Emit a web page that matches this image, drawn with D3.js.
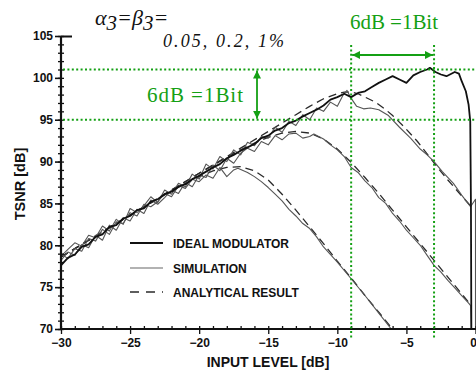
<!DOCTYPE html>
<html>
<head>
<meta charset="utf-8">
<script src="https://cdn.jsdelivr.net/npm/d3@7"></script>
<style>
  html, body { margin: 0; padding: 0; background: #fff; }
  svg { display: block; }
  .tick text { font-family: "Liberation Sans", Arial, sans-serif; font-weight: bold; font-size: 12px; fill: #111; }
</style>
</head>
<body>
<svg id="chart" width="476" height="371"></svg>
<script>
// Axis ticks
const xTicks = [-30, -25, -20, -15, -10, -5, 0];
const yTicks = [70, 75, 80, 85, 90, 95, 100, 105];

// Ideal modulator TSNR vs input level [dB]
const ideal = [[-30,77.6],[-29.5,78.5],[-29,78.9],[-28.5,79.8],[-28,80.1],[-27.5,81.0],[-27,81.3],[-26.5,82.2],[-26,82.4],[-25.5,83.2],[-25,83.5],[-24.5,84.2],[-24,84.4],[-23.5,85.2],[-23,85.5],[-22.5,86.1],[-22,86.4],[-21.5,87.0],[-21,87.3],[-20.5,87.9],[-20,88.3],[-19.5,88.8],[-19,89.3],[-18.5,89.7],[-18,90.4],[-17.5,90.8],[-17,91.3],[-16.5,91.7],[-16,92.1],[-15.5,92.8],[-15,93.1],[-14.5,93.7],[-14,94.0],[-13.5,94.6],[-13,94.9],[-12.5,95.4],[-12,95.8],[-11.5,96.2],[-11,96.7],[-10.5,97.4],[-10,97.7],[-9.5,98.1],[-9,97.7],[-8.5,98.2],[-8,98.4],[-7.5,98.9],[-7,99.4],[-6.5,99.8],[-6,100.2],[-5.5,99.8],[-5,99.4],[-4.5,100.3],[-4,100.7],[-3.5,101.0],[-3.3,101.2],[-2.9,100.7],[-2.5,100.4],[-2.1,100.2],[-1.5,100.7],[-1.2,100.5],[-1,99.6],[-0.7,98.4],[-0.5,96.8],[-0.38,94.8],[-0.33,85],[-0.3,70]];

// Simulated TSNR for alpha3 = beta3 = 0.05 %, 0.2 %, 1 %
const sim005 = [[-30,78.7],[-29.5,79.5],[-29,80.3],[-28.5,79.9],[-28,81.2],[-27.5,80.9],[-27,82.3],[-26.5,81.7],[-26,83.1],[-25.5,82.5],[-25,84.4],[-24.5,83.9],[-24,84.7],[-23.5,85.8],[-23,85.1],[-22.5,86.6],[-22,86.1],[-21.5,87.4],[-21,87.0],[-20.5,88.5],[-20,87.9],[-19.5,89.7],[-19,89.1],[-18.5,90.6],[-18,90.0],[-17.5,91.4],[-17,90.8],[-16.5,92.3],[-16,91.9],[-15.5,93.0],[-15,92.8],[-14.5,94.1],[-14,93.5],[-13.5,94.8],[-13,94.3],[-12.5,95.6],[-12,95.0],[-11.5,96.4],[-11,96.0],[-10.5,97.1],[-10,96.6],[-9.6,97.9],[-9.3,98.5],[-9.06,97.7],[-8.6,96.6],[-8.1,96.3],[-7.6,96.4],[-7,96.2],[-6.3,95.5],[-5.5,94.1],[-4.7,92.8],[-4,91.5],[-3.5,90.8],[-3,90.0],[-2.4,88.8],[-1.6,87.4],[-1,86.0],[-0.36,84.6],[0,85.5],[0,70]];
const sim02 = [[-30,78.2],[-29.5,79.2],[-29,78.8],[-28.5,80.1],[-28,79.7],[-27.5,81.2],[-27,80.6],[-26.5,82.4],[-26,81.8],[-25.5,83.3],[-25,82.9],[-24.5,84.3],[-24,83.8],[-23.5,85.4],[-23,84.9],[-22.5,85.7],[-22,86.6],[-21.5,86.2],[-21,87.5],[-20.5,87.0],[-20,88.4],[-19.5,88.1],[-19,89.6],[-18.5,88.9],[-18,90.4],[-17.5,89.8],[-17,91.0],[-16.5,91.6],[-16,91.2],[-15.5,92.4],[-15,92.0],[-14.5,93.1],[-14,92.6],[-13.5,93.3],[-13,93.4],[-12.5,92.8],[-12,93.0],[-11.7,93.3],[-11,92.7],[-10.5,92.0],[-10,91.4],[-9.5,90.6],[-9,89.3],[-8.5,88.7],[-8,87.7],[-7.5,86.9],[-7,85.7],[-6.5,85.0],[-6,83.8],[-5.5,82.9],[-5,81.8],[-4.5,80.9],[-4,80.0],[-3.5,78.8],[-3,77.6],[-2.5,76.8],[-2,75.8],[-1.5,74.9],[-1,74.0],[-0.5,73.1],[-0.35,72.8],[-0.3,70]];
const sim1 = [[-30,79.0],[-29.5,78.4],[-29,79.6],[-28.5,79.3],[-28,80.8],[-27.5,80.5],[-27,81.9],[-26.5,81.3],[-26,82.8],[-25.5,82.6],[-25,83.9],[-24.5,83.5],[-24,84.9],[-23.5,84.6],[-23,85.2],[-22.5,86.2],[-22,85.8],[-21.5,87.1],[-21,86.8],[-20.5,87.9],[-20,87.6],[-19.5,88.4],[-19,88.0],[-18.5,89.3],[-18,88.2],[-17.5,89.0],[-17.2,89.2],[-16.5,88.7],[-16,88.2],[-15.5,87.6],[-15,86.9],[-14.5,86.1],[-14,85.3],[-13.5,84.3],[-13,83.5],[-12.5,82.6],[-12,82.0],[-11.5,81.0],[-11,79.8],[-10,78.0],[-9,76.0],[-8,74.0],[-7,71.9],[-6.1,70]];

// Analytical TSNR for the same three coefficients
const ana005 = [[-30,78.6],[-25,83.6],[-20,88.6],[-17,91.6],[-15,93.6],[-13,95.6],[-12,96.6],[-11,97.5],[-10,98.1],[-9.5,98.3],[-9,98.3],[-8.5,98.1],[-8,97.7],[-7.25,97.1],[-6.5,96.2],[-6,95.5],[-5.2,94.2],[-4.2,92.4],[-3.4,90.7],[-2.7,89.2],[-2,87.8],[-1,85.9],[-0.3,84.6]];
const ana02 = [[-30,78.6],[-25,83.6],[-20,88.6],[-18,90.5],[-17,91.4],[-16,92.2],[-15,92.9],[-14,93.4],[-13,93.6],[-12,93.4],[-11,92.7],[-10,91.5],[-9,89.9],[-8,88.1],[-7,86.2],[-6,84.2],[-5,82.2],[-4,80.2],[-3,78.2],[-2,76.2],[-1,74.2],[-0.3,72.8]];
const ana1 = [[-30,78.6],[-25,83.6],[-22,86.5],[-20,88.2],[-19,88.9],[-18,89.3],[-17,89.4],[-16,88.9],[-15,87.8],[-14,86.1],[-13,84.2],[-12,82.2],[-11,80.2],[-10,78.1],[-9,76.1],[-8,74.0],[-7,72.0],[-6,70.0]];

// Reference markers: 6 dB span between levels and inputs
const levelLines = [101, 95];
const inputLines = [-9, -3];

const legendItems = ["IDEAL MODULATOR", "SIMULATION", "ANALYTICAL RESULT"];

const GREEN = "#14a014";
const svg = d3.select("#chart");
const x = d3.scaleLinear().domain([-30, 0]).range([61, 475.5]);
const y = d3.scaleLinear().domain([70, 105]).range([329, 36]);

svg.append("defs").append("clipPath").attr("id", "plot")
  .append("rect").attr("x", 61).attr("y", 30).attr("width", 416).attr("height", 300);

svg.select("defs").append("marker")
  .attr("id", "ah").attr("viewBox", "0 0 10 10").attr("refX", 10).attr("refY", 5)
  .attr("markerWidth", 4.5).attr("markerHeight", 4.5).attr("orient", "auto-start-reverse")
  .attr("markerUnits", "strokeWidth")
  .append("path").attr("d", "M0,0 L10,5 L0,10 Z").attr("fill", GREEN);

const line = d3.line().x(d => x(d[0])).y(d => y(d[1]));
const curves = svg.append("g").attr("clip-path", "url(#plot)");

// analytical (dashed)
[ana005, ana02, ana1].forEach(s => curves.append("path").attr("d", line(s))
  .attr("fill", "none").attr("stroke", "#2a2a2a").attr("stroke-width", 1.3)
  .attr("stroke-dasharray", "8,5"));
// simulation (thin gray)
[sim005, sim02, sim1].forEach(s => curves.append("path").attr("d", line(s))
  .attr("fill", "none").attr("stroke", "#555").attr("stroke-width", 1.1)
  .attr("stroke-linejoin", "round"));
// ideal modulator (thick black)
curves.append("path").attr("d", line(ideal))
  .attr("fill", "none").attr("stroke", "#111").attr("stroke-width", 1.8)
  .attr("stroke-linejoin", "round");

// Axes
const yMinor = d3.range(70, 105.01, 1);
const xMinor = d3.range(-30, 0.01, 1);
function styleAxis(g) {
  g.select(".domain").remove();
  g.selectAll(".tick line").attr("stroke", "#111").attr("stroke-width", 1.3);
}
svg.append("g").attr("transform", "translate(61,0)")
  .call(d3.axisLeft(y).tickValues(yMinor).tickSize(3).tickFormat(""))
  .call(styleAxis);
svg.append("g").attr("transform", "translate(61,0)")
  .call(d3.axisRight(y).tickValues(yMinor).tickSize(3).tickFormat(""))
  .call(styleAxis);
svg.append("g").attr("transform", "translate(61,0)")
  .call(d3.axisLeft(y).tickValues(yTicks).tickSize(6).tickPadding(2).tickFormat(d3.format("d")))
  .call(styleAxis)
  .call(g => g.selectAll(".tick line").attr("stroke-width", 1.6));
svg.append("g").attr("transform", "translate(61,0)")
  .call(d3.axisRight(y).tickValues([105]).tickSize(11).tickFormat(""))
  .call(styleAxis)
  .call(g => g.selectAll(".tick line").attr("stroke-width", 2));

svg.append("g").attr("transform", "translate(0,329)")
  .call(d3.axisTop(x).tickValues(xMinor).tickSize(3).tickFormat(""))
  .call(styleAxis);
svg.append("g").attr("transform", "translate(0,329)")
  .call(d3.axisBottom(x).tickValues(xTicks).tickSize(5).tickPadding(4).tickFormat(d3.format("d")))
  .call(styleAxis)
  // the last label sits at the right edge, so it is right-aligned to stay inside
  .call(g => g.selectAll(".tick text").filter(d => d === 0)
    .attr("text-anchor", "end").attr("dx", 1));

// axis lines
svg.append("line").attr("x1", 61).attr("x2", 61).attr("y1", y(105)).attr("y2", y(70) + 1)
  .attr("stroke", "#111").attr("stroke-width", 2.2);
svg.append("line").attr("x1", 60).attr("x2", 476).attr("y1", y(70)).attr("y2", y(70))
  .attr("stroke", "#111").attr("stroke-width", 2.2);

// axis titles
svg.append("text").attr("transform", `translate(25,${184}) rotate(-90)`)
  .attr("text-anchor", "middle")
  .style("font-family", "Liberation Sans, Arial, sans-serif").style("font-weight", "bold")
  .style("font-size", "14.5px").attr("fill", "#111").text("TSNR [dB]");
svg.append("text").attr("x", 268).attr("y", 367).attr("text-anchor", "middle")
  .style("font-family", "Liberation Sans, Arial, sans-serif").style("font-weight", "bold")
  .style("font-size", "14px").attr("fill", "#111").text("INPUT LEVEL [dB]");

// Legend
const lg = svg.append("g");
const legY = [243, 268, 292];
const legStroke = [
  { c: "#111", w: 1.8, d: null },
  { c: "#666", w: 1.2, d: null },
  { c: "#2a2a2a", w: 1.3, d: "9,7" }
];
legendItems.forEach((t, i) => {
  lg.append("line").attr("x1", 130).attr("x2", 163).attr("y1", legY[i]).attr("y2", legY[i])
    .attr("stroke", legStroke[i].c).attr("stroke-width", legStroke[i].w)
    .attr("stroke-dasharray", legStroke[i].d);
  lg.append("text").attr("x", 173).attr("y", legY[i] + 4.5)
    .style("font-family", "Liberation Sans, Arial, sans-serif").style("font-weight", "bold")
    .style("font-size", "12px").attr("fill", "#111").text(t);
});

// Green dotted guide lines
const guides = svg.append("g").attr("stroke", GREEN).attr("stroke-width", 2)
  .attr("stroke-dasharray", "2,2.4");
levelLines.forEach(v => guides.append("line")
  .attr("x1", 63).attr("x2", 476).attr("y1", y(v)).attr("y2", y(v)));
inputLines.forEach(v => guides.append("line")
  .attr("x1", x(v)).attr("x2", x(v)).attr("y1", 45).attr("y2", 339));

// Arrows
svg.append("line").attr("x1", x(inputLines[0]) + 1).attr("x2", x(inputLines[1]) - 1)
  .attr("y1", 55).attr("y2", 55).attr("stroke", GREEN).attr("stroke-width", 1.8)
  .attr("marker-start", "url(#ah)").attr("marker-end", "url(#ah)");
svg.append("line").attr("x1", 257).attr("x2", 257)
  .attr("y1", y(levelLines[0]) + 1).attr("y2", y(levelLines[1]) - 1)
  .attr("stroke", GREEN).attr("stroke-width", 1.8)
  .attr("marker-start", "url(#ah)").attr("marker-end", "url(#ah)");

const serif = "Liberation Serif, Times New Roman, serif";
svg.append("text").attr("x", 350).attr("y", 29).attr("textLength", 88).attr("lengthAdjust", "spacing")
  .style("font-family", serif).style("font-size", "21px").attr("fill", GREEN).text("6dB =1Bit");
svg.append("text").attr("x", 147).attr("y", 102).attr("textLength", 96).attr("lengthAdjust", "spacing")
  .style("font-family", serif).style("font-size", "21px").attr("fill", GREEN).text("6dB =1Bit");

// Coefficient annotation
const t1 = svg.append("text").attr("x", 95).attr("y", 25)
  .style("font-family", serif).style("font-style", "italic").style("font-size", "22px").attr("fill", "#111");
t1.append("tspan").text("α");
t1.append("tspan").attr("dy", 5).style("font-size", "21px").text("3");
t1.append("tspan").attr("dy", -5).text("=");
t1.append("tspan").text("β");
t1.append("tspan").attr("dy", 5).style("font-size", "21px").text("3");
t1.append("tspan").attr("dy", -5).text("=");
svg.append("text").attr("x", 163).attr("y", 47).attr("textLength", 121).attr("lengthAdjust", "spacing")
  .style("font-family", serif).style("font-style", "italic").style("font-size", "18px").attr("fill", "#111")
  .text("0.05, 0.2, 1%");
</script>
</body>
</html>
